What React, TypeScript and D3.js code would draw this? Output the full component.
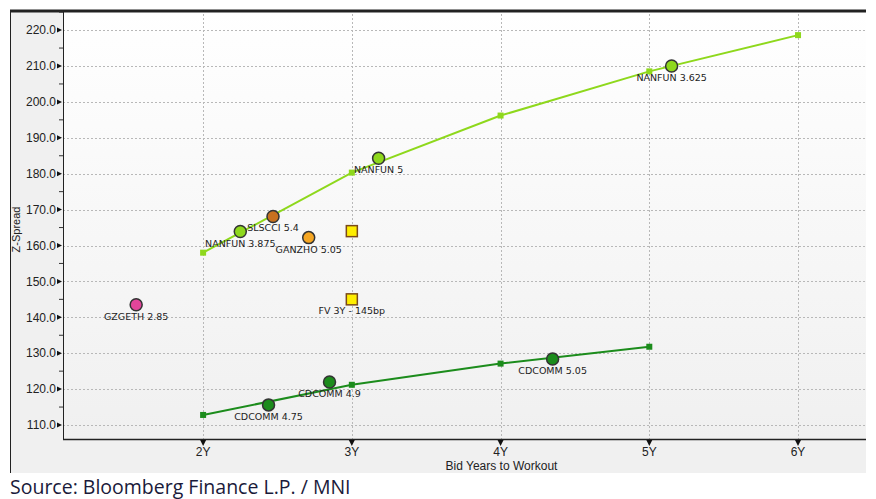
import * as d3 from "d3";
import { useEffect } from "react";

// curves: years to workout vs z-spread
const curveYears = [2, 3, 4, 5, 6];
const lightCurve = [158.0, 180.3, 196.2, 208.5, 218.6];
const darkCurveYears = [2, 3, 4, 5];
const darkCurve = [112.8, 121.2, 127.1, 131.8];

// bonds
const bondLabels = [
  "GZGETH 2.85",
  "NANFUN 3.875",
  "SLSCCI 5.4",
  "GANZHO 5.05",
  "NANFUN 5",
  "NANFUN 3.625",
  "CDCOMM 4.75",
  "CDCOMM 4.9",
  "CDCOMM 5.05",
];
const bondYears = [1.55, 2.25, 2.47, 2.71, 3.18, 5.15, 2.44, 2.85, 4.35];
const bondSpreads = [143.5, 163.9, 168.1, 162.2, 184.3, 210.0, 115.6, 122.0, 128.4];
const bondColors = ["#e2459a", "#8ed81c", "#c8711f", "#f5a623", "#8ed81c", "#8ed81c", "#1c8c1c", "#1c8c1c", "#1c8c1c"];

// fair value squares
const fvLabels = ["", "FV 3Y - 145bp"];
const fvYears = [3, 3];
const fvSpreads = [164.0, 145.0];

const yTicks = [110, 120, 130, 140, 150, 160, 170, 180, 190, 200, 210, 220];
const xTicks = [2, 3, 4, 5, 6];

const W = 876;
const H = 499;
const frame = { left: 10, top: 10, right: 866, bottom: 473 };
const plot = { left: 63, top: 10, right: 866, bottom: 439 };

export default function App() {
  useEffect(() => {
    document.body.style.margin = "0";
  }, []);

  const x = d3.scaleLinear().domain([1.058, 6.457]).range([plot.left, plot.right]);
  const y = d3.scaleLinear().domain([106.1, 225.6]).range([plot.bottom, plot.top]);

  const line = d3
    .line<[number, number]>()
    .x((d) => x(d[0]))
    .y((d) => y(d[1]));

  const light: [number, number][] = curveYears.map((v, i) => [v, lightCurve[i]]);
  const dark: [number, number][] = darkCurveYears.map((v, i) => [v, darkCurve[i]]);
  const minorTicks = d3.range(105, 226, 5).filter((t) => t % 10 !== 0 && y(t) > plot.top && y(t) < plot.bottom);

  const tickFont = "'Liberation Sans', Arial, sans-serif";
  const labelFont = "'DejaVu Sans', sans-serif";

  return (
    <svg width={W} height={H} style={{ display: "block" }}>
      <defs>
        <linearGradient id="plotBg" x1="0" y1="0" x2="0" y2="1">
          <stop offset="0" stopColor="#ffffff" />
          <stop offset="1" stopColor="#f0f0f0" />
        </linearGradient>
      </defs>
      <rect x={0} y={0} width={W} height={H} fill="#ffffff" />
      <rect
        x={frame.left}
        y={frame.top}
        width={frame.right - frame.left}
        height={frame.bottom - frame.top}
        fill="#f0f0f0"
      />
      <line x1={frame.left + 0.5} x2={frame.left + 0.5} y1={frame.top} y2={frame.bottom} stroke="#222" />
      <rect
        x={plot.left}
        y={plot.top}
        width={plot.right - plot.left}
        height={plot.bottom - plot.top}
        fill="url(#plotBg)"
      />

      {/* grid */}
      {yTicks.map((t) => (
        <line
          key={"gy" + t}
          x1={plot.left}
          x2={plot.right}
          y1={Math.round(y(t)) + 0.5}
          y2={Math.round(y(t)) + 0.5}
          stroke="#b8b8b8"
          strokeDasharray="2,2"
        />
      ))}
      {xTicks.map((t) => (
        <line
          key={"gx" + t}
          x1={Math.round(x(t)) + 0.5}
          x2={Math.round(x(t)) + 0.5}
          y1={plot.top}
          y2={plot.bottom}
          stroke="#b8b8b8"
          strokeDasharray="2,2"
        />
      ))}

      {/* top border */}
      <line x1={frame.left} x2={frame.right} y1={frame.top + 1} y2={frame.top + 1} stroke="#222" strokeWidth={3} />

      {/* y axis */}
      <line x1={plot.left + 0.5} x2={plot.left + 0.5} y1={plot.top} y2={plot.bottom} stroke="#222" />
      {minorTicks.map((t) => (
        <line key={"my" + t} x1={plot.left - 4} x2={plot.left} y1={y(t)} y2={y(t)} stroke="#333" />
      ))}
      {yTicks.map((t) => (
        <g key={"ty" + t} transform={`translate(${plot.left},${y(t)})`}>
          <path d="M-6,-2.5L-1,0L-6,2.5Z" fill="#111" />
          <text x={-7} dy="0.35em" textAnchor="end" fontSize={12} fontFamily={tickFont} fill="#222">
            {t.toFixed(1)}
          </text>
        </g>
      ))}
      <text
        transform={`translate(20,${(plot.top + plot.bottom) / 2 + 5}) rotate(-90)`}
        textAnchor="middle"
        fontSize={11}
        fontFamily={tickFont}
        fill="#222"
      >
        Z-Spread
      </text>

      {/* x axis */}
      <line x1={plot.left} x2={plot.right} y1={plot.bottom + 0.5} y2={plot.bottom + 0.5} stroke="#222" strokeWidth={1.5} />
      {xTicks.map((t) => (
        <g key={"tx" + t} transform={`translate(${x(t)},${plot.bottom})`}>
          <path d="M-3,1L3,1L0,7Z" fill="#111" />
          <text y={17} textAnchor="middle" fontSize={12} fontFamily={tickFont} fill="#222">
            {t + "Y"}
          </text>
        </g>
      ))}
      <text
        x={(plot.left + plot.right) / 2 + 37}
        y={470}
        textAnchor="middle"
        fontSize={12}
        fontFamily={tickFont}
        fill="#222"
      >
        Bid Years to Workout
      </text>

      {/* curves */}
      <path d={line(light) ?? ""} fill="none" stroke="#8ed81c" strokeWidth={2} />
      {light.map((d, i) => (
        <rect key={"lm" + i} x={x(d[0]) - 3} y={y(d[1]) - 3} width={6} height={6} fill="#8ed81c" />
      ))}
      <path d={line(dark) ?? ""} fill="none" stroke="#1c8c1c" strokeWidth={2} />
      {dark.map((d, i) => (
        <rect key={"dm" + i} x={x(d[0]) - 3} y={y(d[1]) - 3} width={6} height={6} fill="#1c8c1c" />
      ))}

      {/* fair value squares */}
      {fvYears.map((v, i) => (
        <g key={"fv" + i}>
          <rect
            x={x(v) - 5.5}
            y={y(fvSpreads[i]) - 5.5}
            width={11}
            height={11}
            fill="#ffee00"
            stroke="#7a4a1a"
            strokeWidth={1.5}
          />
          <text
            x={x(v)}
            y={y(fvSpreads[i]) + 15}
            textAnchor="middle"
            fontSize={9.5}
            fontFamily={labelFont}
            fill="#222"
          >
            {fvLabels[i]}
          </text>
        </g>
      ))}

      {/* bonds */}
      {bondYears.map((v, i) => (
        <g key={"b" + i}>
          <circle cx={x(v)} cy={y(bondSpreads[i])} r={6} fill={bondColors[i]} stroke="#333" strokeWidth={1.5} />
          <text
            x={x(v)}
            y={y(bondSpreads[i]) + 15}
            textAnchor="middle"
            fontSize={9.5}
            fontFamily={labelFont}
            fill="#222"
          >
            {bondLabels[i]}
          </text>
        </g>
      ))}

      <text x={10} y={494} fontSize={19.5} fontFamily="'Open Sans', 'Noto Sans', sans-serif" fill="#1a1a3a">
        Source: Bloomberg Finance L.P. / MNI
      </text>
    </svg>
  );
}
